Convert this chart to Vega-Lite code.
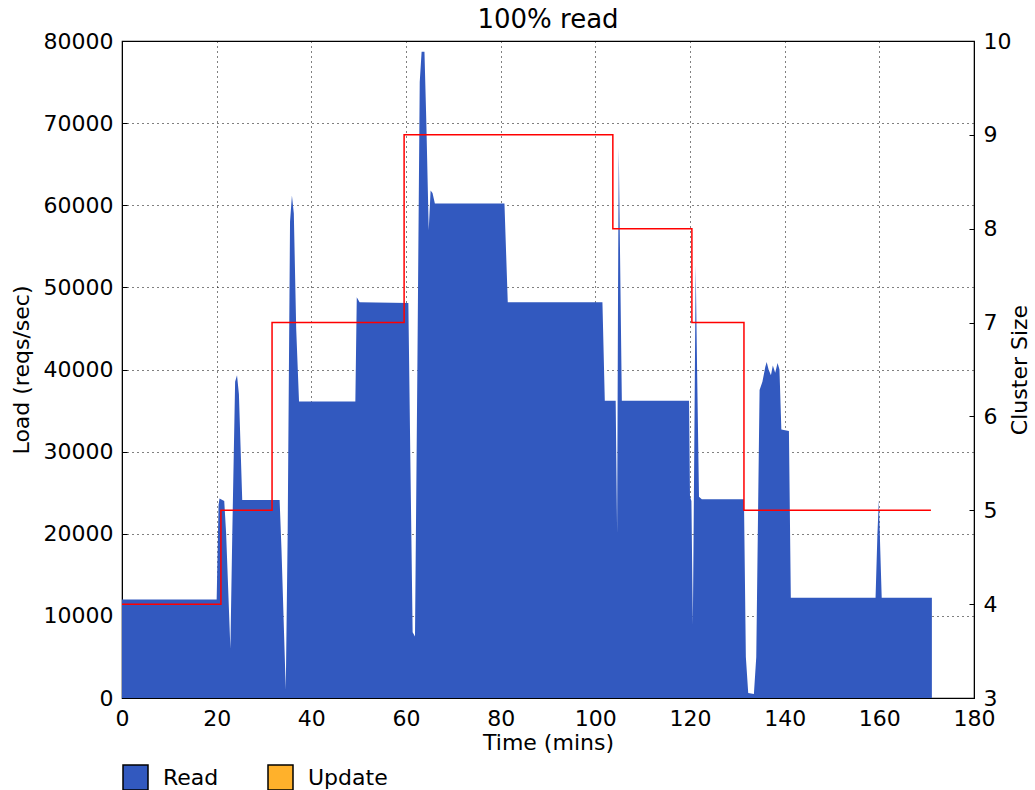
{
  "$schema": "https://vega.github.io/schema/vega-lite/v6.json",
  "width": 852,
  "height": 657,
  "autosize": {"type": "none"},
  "padding": {"left": 122, "top": 41, "right": 61, "bottom": 92},
  "background": "white",
  "title": {"text": "100% read", "fontSize": 26, "fontWeight": "normal", "font": "DejaVu Sans", "color": "black", "offset": -3},
  "config": {
    "font": "DejaVu Sans",
    "view": {"stroke": "black", "strokeWidth": 1.2},
    "axis": {
      "labelFont": "DejaVu Sans",
      "titleFont": "DejaVu Sans",
      "labelFontSize": 22,
      "titleFontSize": 22,
      "titleFontWeight": "normal",
      "labelColor": "black",
      "titleColor": "black",
      "domainColor": "black",
      "tickColor": "black",
      "tickSize": -5,
      "labelPadding": 14,
      "gridColor": "black",
      "gridOpacity": 1,
      "gridWidth": 1,
      "gridDash": [1, 4],
      "zindex": 1
    }
  },
  "datasets": {
    "load": [
      {"t": 0, "load": 12000, "series": "Read"},
      {"t": 20.0, "load": 12000, "series": "Read"},
      {"t": 20.4, "load": 23500, "series": "Read"},
      {"t": 20.6, "load": 24300, "series": "Read"},
      {"t": 21.6, "load": 24000, "series": "Read"},
      {"t": 22.0, "load": 20000, "series": "Read"},
      {"t": 22.9, "load": 6000, "series": "Read"},
      {"t": 23.3, "load": 20000, "series": "Read"},
      {"t": 23.9, "load": 38500, "series": "Read"},
      {"t": 24.3, "load": 39300, "series": "Read"},
      {"t": 24.7, "load": 37000, "series": "Read"},
      {"t": 25.4, "load": 24100, "series": "Read"},
      {"t": 33.3, "load": 24100, "series": "Read"},
      {"t": 33.7, "load": 18000, "series": "Read"},
      {"t": 34.6, "load": 1000, "series": "Read"},
      {"t": 35.0, "load": 20000, "series": "Read"},
      {"t": 35.5, "load": 58000, "series": "Read"},
      {"t": 35.9, "load": 61200, "series": "Read"},
      {"t": 36.3, "load": 59000, "series": "Read"},
      {"t": 36.8, "load": 45000, "series": "Read"},
      {"t": 37.4, "load": 36100, "series": "Read"},
      {"t": 49.3, "load": 36100, "series": "Read"},
      {"t": 49.6, "load": 48800, "series": "Read"},
      {"t": 50.2, "load": 48200, "series": "Read"},
      {"t": 60.5, "load": 48100, "series": "Read"},
      {"t": 60.9, "load": 30000, "series": "Read"},
      {"t": 61.4, "load": 8000, "series": "Read"},
      {"t": 61.9, "load": 7500, "series": "Read"},
      {"t": 62.4, "load": 40000, "series": "Read"},
      {"t": 62.9, "load": 75000, "series": "Read"},
      {"t": 63.3, "load": 78700, "series": "Read"},
      {"t": 63.9, "load": 78700, "series": "Read"},
      {"t": 64.3, "load": 70000, "series": "Read"},
      {"t": 64.8, "load": 57000, "series": "Read"},
      {"t": 65.2, "load": 61800, "series": "Read"},
      {"t": 65.6, "load": 61500, "series": "Read"},
      {"t": 66.1, "load": 60200, "series": "Read"},
      {"t": 80.8, "load": 60200, "series": "Read"},
      {"t": 81.5, "load": 48200, "series": "Read"},
      {"t": 101.5, "load": 48200, "series": "Read"},
      {"t": 102.0, "load": 36200, "series": "Read"},
      {"t": 104.3, "load": 36200, "series": "Read"},
      {"t": 104.6, "load": 20000, "series": "Read"},
      {"t": 104.8, "load": 50000, "series": "Read"},
      {"t": 104.95, "load": 67000, "series": "Read"},
      {"t": 105.2, "load": 55000, "series": "Read"},
      {"t": 105.6, "load": 36200, "series": "Read"},
      {"t": 119.8, "load": 36200, "series": "Read"},
      {"t": 120.0, "load": 24500, "series": "Read"},
      {"t": 120.3, "load": 24000, "series": "Read"},
      {"t": 120.6, "load": 9000, "series": "Read"},
      {"t": 120.9, "load": 30000, "series": "Read"},
      {"t": 121.2, "load": 52700, "series": "Read"},
      {"t": 121.5, "load": 40000, "series": "Read"},
      {"t": 121.9, "load": 24500, "series": "Read"},
      {"t": 122.5, "load": 24200, "series": "Read"},
      {"t": 131.4, "load": 24200, "series": "Read"},
      {"t": 131.8, "load": 5000, "series": "Read"},
      {"t": 132.3, "load": 600, "series": "Read"},
      {"t": 133.5, "load": 500, "series": "Read"},
      {"t": 134.0, "load": 5000, "series": "Read"},
      {"t": 134.7, "load": 37500, "series": "Read"},
      {"t": 135.3, "load": 38500, "series": "Read"},
      {"t": 135.9, "load": 40300, "series": "Read"},
      {"t": 136.2, "load": 40900, "series": "Read"},
      {"t": 136.6, "load": 40000, "series": "Read"},
      {"t": 137.1, "load": 39300, "series": "Read"},
      {"t": 137.5, "load": 40500, "series": "Read"},
      {"t": 138.0, "load": 39600, "series": "Read"},
      {"t": 138.5, "load": 40800, "series": "Read"},
      {"t": 138.9, "load": 40000, "series": "Read"},
      {"t": 139.3, "load": 32700, "series": "Read"},
      {"t": 140.9, "load": 32500, "series": "Read"},
      {"t": 141.3, "load": 12200, "series": "Read"},
      {"t": 159.2, "load": 12200, "series": "Read"},
      {"t": 159.6, "load": 20000, "series": "Read"},
      {"t": 159.9, "load": 24100, "series": "Read"},
      {"t": 160.2, "load": 18000, "series": "Read"},
      {"t": 160.5, "load": 12200, "series": "Read"},
      {"t": 171.1, "load": 12200, "series": "Read"}
    ],
    "cluster": [
      {"t": 0, "size": 4},
      {"t": 20.9, "size": 5},
      {"t": 31.7, "size": 7},
      {"t": 59.6, "size": 9},
      {"t": 103.7, "size": 8},
      {"t": 120.4, "size": 7},
      {"t": 131.4, "size": 5},
      {"t": 170.9, "size": 5}
    ]
  },
  "layer": [
    {
      "data": {"name": "load"},
      "mark": {"type": "area", "strokeWidth": 1, "opacity": 1, "fillOpacity": 1},
      "encoding": {
        "x": {
          "field": "t", "type": "quantitative",
          "scale": {"domain": [0, 180], "nice": false, "zero": false},
          "axis": {"title": "Time (mins)", "values": [0, 20, 40, 60, 80, 100, 120, 140, 160, 180], "labelPadding": 15, "titlePadding": 3, "labelFlush": false}
        },
        "y": {
          "field": "load", "type": "quantitative",
          "scale": {"domain": [0, 80000], "nice": false},
          "axis": {"title": "Load (reqs/sec)", "orient": "left", "values": [0, 10000, 20000, 30000, 40000, 50000, 60000, 70000, 80000], "format": "d", "titlePadding": 10, "labelFlush": false}
        },
        "color": {
          "field": "series", "type": "nominal",
          "scale": {"domain": ["Read", "Update"], "range": ["#3259BF", "#FFB12B"]},
          "legend": {
            "title": null,
            "orient": "none",
            "legendX": 0,
            "legendY": 723,
            "direction": "horizontal",
            "symbolType": "square",
            "symbolSize": 625,
            "symbolStrokeColor": "black",
            "symbolStrokeWidth": 1.5,
            "symbolOpacity": 1,
            "labelFontSize": 22,
            "labelFont": "DejaVu Sans",
            "labelColor": "black",
            "labelOffset": 14,
            "columnPadding": 46
          }
        }
      }
    },
    {
      "data": {"name": "cluster"},
      "mark": {"type": "line", "color": "#FF0000", "strokeWidth": 1.5, "interpolate": "step-after"},
      "encoding": {
        "x": {"field": "t", "type": "quantitative", "scale": {"domain": [0, 180], "nice": false, "zero": false}},
        "y": {
          "field": "size", "type": "quantitative",
          "scale": {"domain": [3, 10], "nice": false, "zero": false},
          "axis": {"title": "Cluster Size", "orient": "right", "values": [3, 4, 5, 6, 7, 8, 9, 10], "grid": false, "titleAngle": 270, "titlePadding": 21, "labelFlush": false}
        }
      }
    }
  ],
  "resolve": {"scale": {"y": "independent"}}
}
